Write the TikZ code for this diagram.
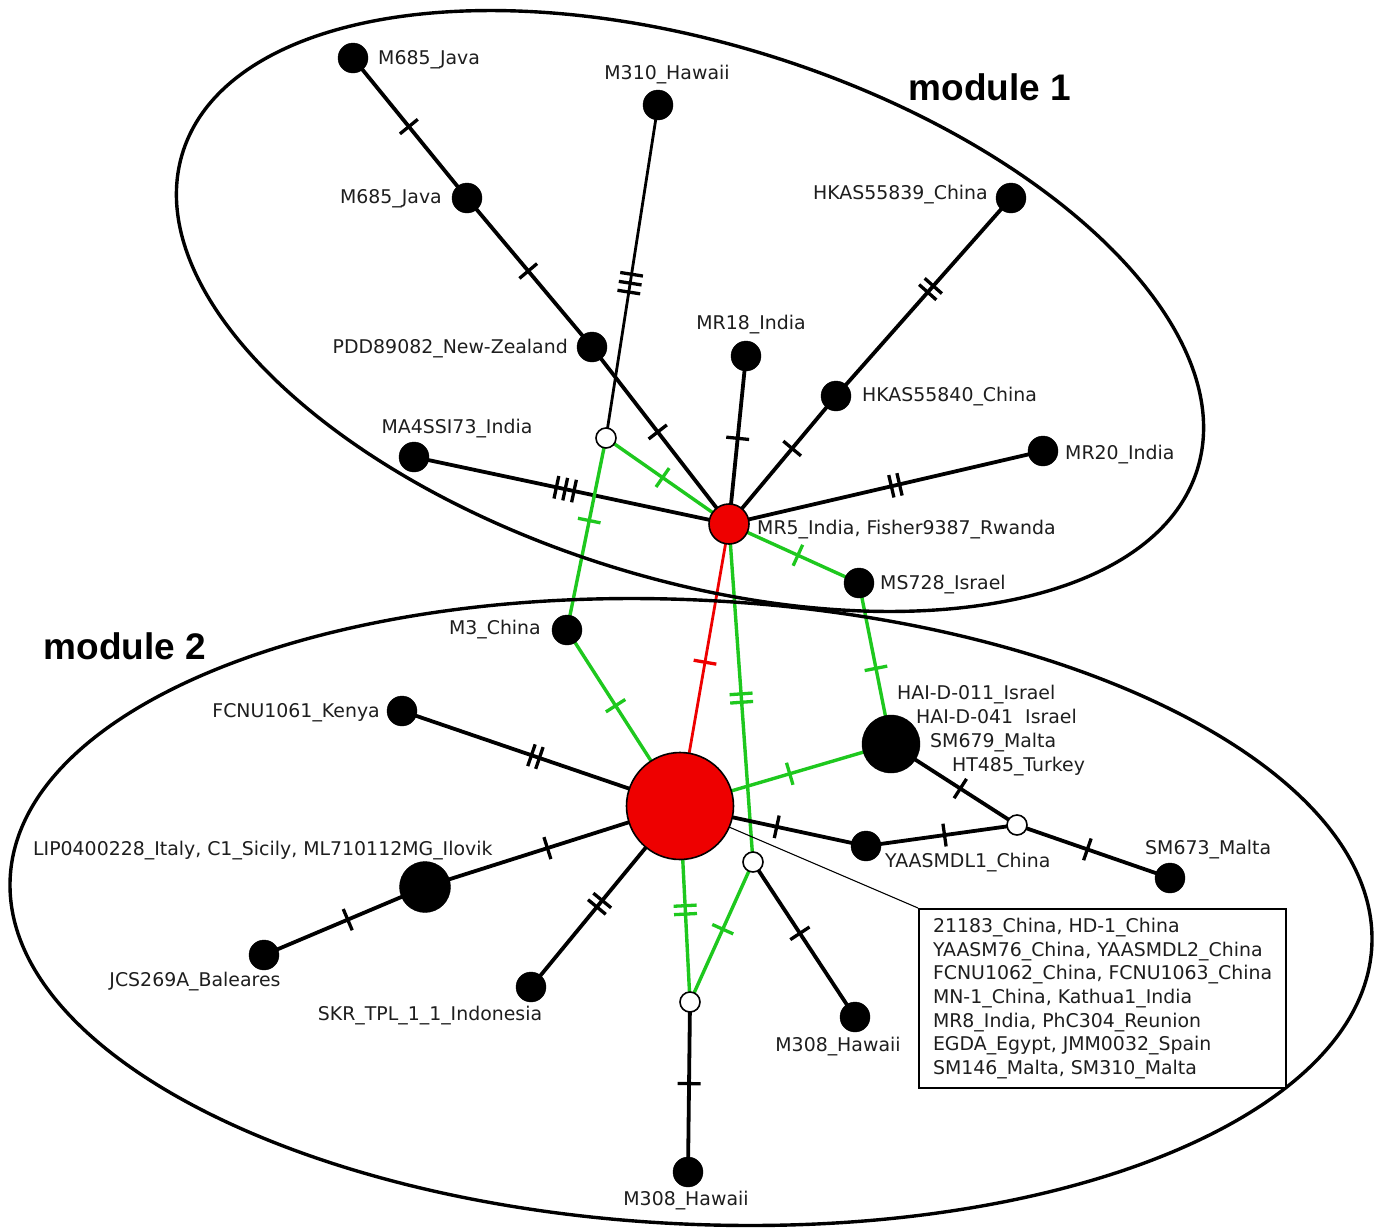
\documentclass[tikz,border=0pt]{standalone}
\usepackage{fontspec}
\setmainfont{DejaVu Sans}
\newfontfamily\modfont{Liberation Sans}
\usetikzlibrary{decorations.markings}
\pgfdeclarelayer{bg}
\pgfdeclarelayer{edges}
\pgfsetlayers{bg,edges,main}
\definecolor{gr}{RGB}{30,200,30}
\definecolor{rd}{RGB}{238,0,0}
\definecolor{txt}{RGB}{30,30,30}
\tikzset{
  blk/.style={circle, fill=black, draw=black, inner sep=0pt, minimum size=30},
  wht/.style={circle, fill=white, draw=black, line width=1.6, inner sep=0pt, minimum size=20},
  rdn/.style={circle, fill=rd, draw=black, line width=1.6, inner sep=0pt},
  lbl/.style={inner sep=0pt, text=txt, text height=13.8pt, text depth=0pt, font=\fontsize{18.9}{22}\selectfont},
  modl/.style={inner sep=0pt, anchor=base, font=\modfont\bfseries\fontsize{37}{40}\selectfont},
  bedge/.style={draw=black, line width=3.8},
  gedge/.style={draw=gr, line width=3.4},
  redge/.style={draw=rd, line width=2.8},
  ellip/.style={draw=black, line width=3.4},
  tk/.style 2 args={postaction={decorate, decoration={markings, mark=at position #1 with {\draw[#2, line width=3.3pt] (0pt,-11.5pt) -- (0pt,11.5pt);}}}},
  tkk/.style 2 args={postaction={decorate, decoration={markings, mark=at position #1 with {\draw[#2, line width=3.3pt] (-4.2pt,-11.5pt) -- (-4.2pt,11.5pt) (4.2pt,-11.5pt) -- (4.2pt,11.5pt);}}}},
  tkkk/.style 2 args={postaction={decorate, decoration={markings, mark=at position #1 with {\draw[#2, line width=3.3pt] (-9pt,-11.5pt) -- (-9pt,11.5pt) (0pt,-11.5pt) -- (0pt,11.5pt) (9pt,-11.5pt) -- (9pt,11.5pt);}}}},
}
\begin{document}
\begin{tikzpicture}[x=1pt,y=-1pt]
\begin{pgfonlayer}{bg}
\fill[white] (0,0) rectangle (1379,1229);
\end{pgfonlayer}
\useasboundingbox (0,0) rectangle (1379,1229);

% module outlines
\draw[ellip, rotate around={-17.35:(690,311)}] (690,311) ellipse [x radius=531.5, y radius=267.4];
\draw[ellip, rotate around={-2.87:(691,912)}] (691,912) ellipse [x radius=681.7, y radius=312];

% module 1 nodes
\node[rdn, minimum size=40] (mr5) at (729,524) {};
\node[blk] (m685a) at (353,58) {};
\node[blk] (m685b) at (467,198) {};
\node[blk] (pdd) at (592,347) {};
\node[blk] (m310) at (658,105) {};
\node[blk] (mr18) at (746,356) {};
\node[blk] (hk39) at (1011,198) {};
\node[blk] (hk40) at (836,396) {};
\node[blk] (mr20) at (1043,451) {};
\node[blk] (ma4) at (414,457) {};
\node[wht] (w1) at (606,438) {};
\node[blk] (ms728) at (859,583) {};

% module 2 nodes
\node[rdn, minimum size=107] (hub) at (680,806) {};
\node[blk] (m3) at (567,630) {};
\node[blk] (fcnu) at (402,711) {};
\node[blk, minimum size=58] (hai) at (891,744) {};
\node[wht] (w4) at (1017,825) {};
\node[blk] (yaas) at (866,846) {};
\node[blk] (sm673) at (1170,878) {};
\node[wht] (w2) at (753,862) {};
\node[blk] (m308r) at (855,1017) {};
\node[wht] (w3) at (690,1002) {};
\node[blk] (m308b) at (688,1172) {};
\node[blk, minimum size=51] (lip) at (425,887) {};
\node[blk] (jcs) at (264,955) {};
\node[blk] (skr) at (531,987) {};

% edges
\begin{pgfonlayer}{edges}
\draw[bedge, tk={0.49}{black}] (m685a.center) -- (m685b.center);
\draw[bedge, tk={0.49}{black}] (m685b.center) -- (pdd.center);
\draw[bedge, tk={0.48}{black}] (pdd.center) -- (mr5.center);
\draw[bedge, line width=2.8, tkkk={0.535}{black}] (m310.center) -- (w1.center);
\draw[bedge, tk={0.49}{black}] (mr18.center) -- (mr5.center);
\draw[bedge, tkk={0.46}{black}] (hk39.center) -- (hk40.center);
\draw[bedge, tk={0.41}{black}] (hk40.center) -- (mr5.center);
\draw[bedge, tkk={0.47}{black}] (mr20.center) -- (mr5.center);
\draw[bedge, tkkk={0.48}{black}] (ma4.center) -- (mr5.center);
\draw[gedge, tk={0.46}{gr}] (w1.center) -- (mr5.center);
\draw[gedge, tk={0.43}{gr}] (w1.center) -- (m3.center);
\draw[gedge, tk={0.53}{gr}] (mr5.center) -- (ms728.center);
\draw[gedge, tk={0.53}{gr}] (ms728.center) -- (hai.center);
\draw[gedge, tk={0.43}{gr}] (m3.center) -- (hub.center);
\draw[gedge, tkk={0.515}{gr}] (mr5.center) -- (w2.center);
\draw[gedge, tk={0.48}{gr}] (hai.center) -- (hub.center);
\draw[gedge, tk={0.48}{gr}] (w2.center) -- (w3.center);
\draw[gedge, tkk={0.53}{gr}] (hub.center) -- (w3.center);
\draw[redge, tk={0.49}{rd}] (mr5.center) -- (hub.center);
\draw[bedge, tkk={0.48}{black}] (fcnu.center) -- (hub.center);
\draw[bedge, tk={0.55}{black}] (hai.center) -- (w4.center);
\draw[bedge, tk={0.52}{black}] (hub.center) -- (yaas.center);
\draw[bedge, tk={0.52}{black}] (yaas.center) -- (w4.center);
\draw[bedge, tk={0.46}{black}] (w4.center) -- (sm673.center);
\draw[bedge, tk={0.52}{black}] (hub.center) -- (lip.center);
\draw[bedge, tk={0.48}{black}] (lip.center) -- (jcs.center);
\draw[bedge, tkk={0.54}{black}] (hub.center) -- (skr.center);
\draw[bedge, tk={0.46}{black}] (w2.center) -- (m308r.center);
\draw[bedge, tk={0.48}{black}] (w3.center) -- (m308b.center);
\end{pgfonlayer}

% box
\node[draw, fill=white, text=txt, line width=2.2, anchor=north west, minimum width=367, minimum height=179, inner xsep=11pt, inner ysep=6pt, align=left, font=\fontsize{18.9}{23.7}\selectfont] (box) at (918,908) {21183\_China, HD-1\_China\\YAASM76\_China, YAASMDL2\_China\\FCNU1062\_China, FCNU1063\_China\\MN-1\_China, Kathua1\_India\\MR8\_India, PhC304\_Reunion\\EGDA\_Egypt, JMM0032\_Spain\\SM146\_Malta, SM310\_Malta};
\begin{pgfonlayer}{edges}
\draw[line width=1.1] (hub) -- (box.north west);
\end{pgfonlayer}

% labels
\node[lbl, anchor=west] (lm685a) at (378,58) {M685\_Java};
\node[lbl, anchor=east] (lm685b) at (442,197) {M685\_Java};
\node[lbl, anchor=east] (lpdd) at (568,347) {PDD89082\_New-Zealand};
\node[lbl] (lm310) at (667,73) {M310\_Hawaii};
\node[lbl] (lmr18) at (751,323) {MR18\_India};
\node[lbl, anchor=east] (lhk39) at (988,193) {HKAS55839\_China};
\node[lbl, anchor=west] (lhk40) at (862,395) {HKAS55840\_China};
\node[lbl, anchor=west] (lmr20) at (1065,453) {MR20\_India};
\node[lbl] (lma4) at (457,427) {MA4SSI73\_India};
\node[lbl, anchor=west] (lmr5) at (757,528) {MR5\_India, Fisher9387\_Rwanda};
\node[lbl, anchor=west] (lms728) at (880,583) {MS728\_Israel};
\node[lbl, anchor=east] (lm3) at (541,628) {M3\_China};
\node[lbl, anchor=east] (lfcnu) at (380,711) {FCNU1061\_Kenya};
\node[lbl, anchor=west] (lhai1) at (897,693) {HAI-D-011\_Israel};
\node[lbl, anchor=west] (lhai2) at (916,717) {HAI-D-041\ \ Israel};
\node[lbl, anchor=west] (lhai3) at (930,741) {SM679\_Malta};
\node[lbl, anchor=west] (lhai4) at (952,765) {HT485\_Turkey};
\node[lbl, anchor=west] (lyaas) at (885,861) {YAASMDL1\_China};
\node[lbl, anchor=west] (lsm673) at (1145,848) {SM673\_Malta};
\node[lbl] (lm308r) at (838,1045) {M308\_Hawaii};
\node[lbl] (lm308b) at (686,1199) {M308\_Hawaii};
\node[lbl, anchor=west] (llip) at (33,849) {LIP0400228\_Italy, C1\_Sicily, ML710112MG\_Ilovik};
\node[lbl] (ljcs) at (195,980) {JCS269A\_Baleares};
\node[lbl] (lskr) at (430,1014) {SKR\_TPL\_1\_1\_Indonesia};
\node[modl] (mod1) at (990,100) {module 1};
\node[modl] (mod2) at (125,659) {module 2};
\end{tikzpicture}
\end{document}
